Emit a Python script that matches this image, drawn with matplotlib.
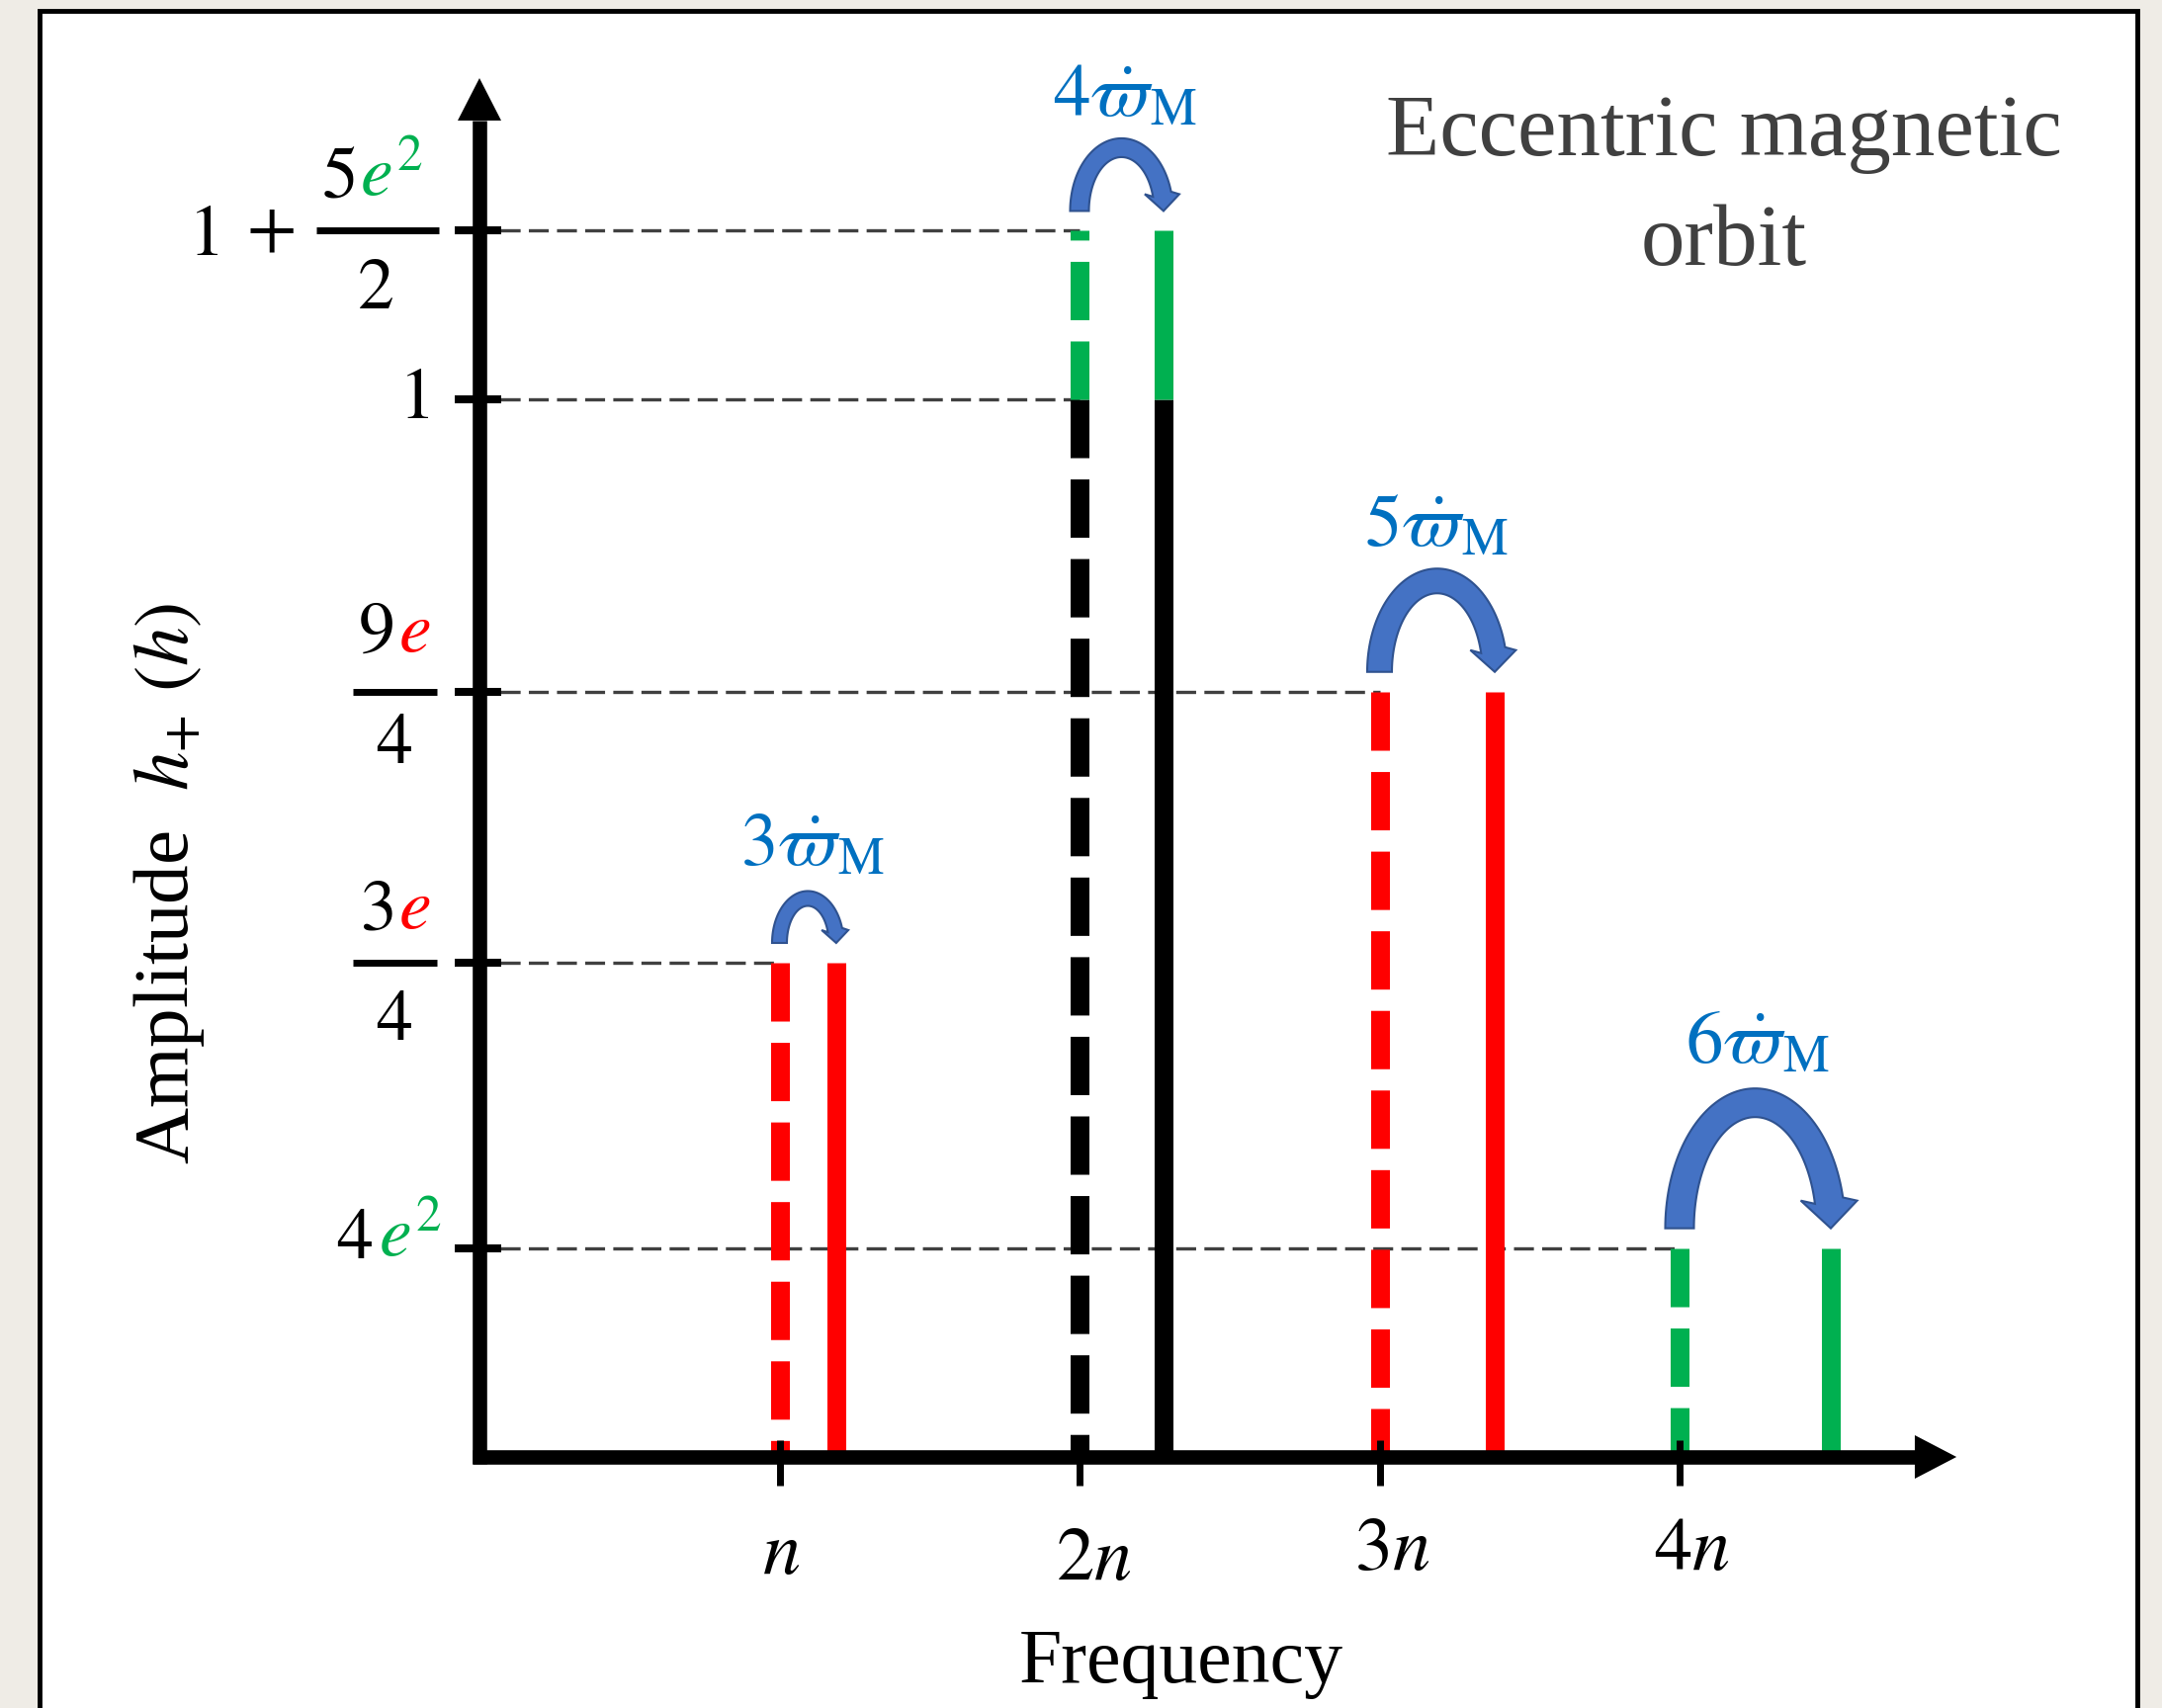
import matplotlib
matplotlib.use('Agg')
import matplotlib.pyplot as plt
from matplotlib.patches import Polygon, Rectangle
import numpy as np

plt.rcParams['font.family'] = ['Liberation Serif', 'DejaVu Serif']
plt.rcParams['mathtext.fontset'] = 'stix'
plt.rcParams['lines.scale_dashes'] = False

# harmonics of the orbital frequency n
harm_labels = ['$n$', '$2n$', '$3n$', '$4n$']
harm_freq = [1, 2, 3, 4]
# shifted line (pericentre precession), same amplitude
shift = [0.189, 0.28, 0.384, 0.504]
shift_labels = [r'$3\dot{\varpi}_{\mathrm{M}}$', r'$4\dot{\varpi}_{\mathrm{M}}$',
                r'$5\dot{\varpi}_{\mathrm{M}}$', r'$6\dot{\varpi}_{\mathrm{M}}$']
# schematic amplitudes: 3e/4, 1, 9e/4, 4e^2  (+5e^2/2 on top of 2n)
amp = [0.4673, 1.0, 0.7236, 0.1975]
amp_extra = [0.0, 0.1594, 0.0, 0.0]

RED = '#FF0000'
GREEN = '#00B050'
BLACK = '#000000'
line_col = [RED, BLACK, RED, GREEN]

W, H = 2187, 1728
fig = plt.figure(figsize=(W / 100, H / 100), dpi=100)
fig.patch.set_facecolor('#EFECE6')
ax = fig.add_axes([0, 0, 1, 1])
ax.set_xlim(-485 / 303.5, (W - 485) / 303.5)
ax.set_ylim(-(H - 1474) / 1070, 1474 / 1070)
ax.axis('off')
ax.patch.set_alpha(0)

sx = (ax.get_xlim()[1] - ax.get_xlim()[0]) / W
sy = (ax.get_ylim()[1] - ax.get_ylim()[0]) / H

# outer white panel with black frame
ax.add_patch(Rectangle((40 / W, -0.05), (2162 - 40) / W, 1.05 - 11 / H,
                       transform=ax.transAxes, fc='white', ec='black', lw=3.5,
                       zorder=0, clip_on=False))

LW = 13.7
DASH = (0, (42.5, 15.5))
GRID_DASH = (0, (14.5, 6.0))

# spectral lines
for k in range(4):
    xd = harm_freq[k]
    xs = xd + shift[k]
    top = amp[k]
    ax.plot([xd, xd], [top, 0], color=line_col[k], lw=LW, ls=DASH, zorder=3)
    ax.plot([xs, xs], [0, top], color=line_col[k], lw=LW, solid_capstyle='butt', zorder=3)
    if amp_extra[k] > 0:
        ax.plot([xd, xd], [top, top + amp_extra[k]], color=GREEN, lw=LW, ls=DASH, zorder=3)
        ax.plot([xs, xs], [top, top + amp_extra[k]], color=GREEN, lw=LW,
                solid_capstyle='butt', zorder=3)

# dashed guides from the y axis
for k in range(4):
    tops = [amp[k]] + ([amp[k] + amp_extra[k]] if amp_extra[k] > 0 else [])
    for t in tops:
        ax.plot([0.07, harm_freq[k]], [t, t], color='#404040', lw=2.4, ls=GRID_DASH, zorder=2)

# curved arrows (precession shift)
curl_t = [15, 19, 25, 29]
curl_h = [45, 64, 92, 127]
curl_hw = [27, 35, 46, 57]
curl_hl = [13, 17, 22, 28]
for k in range(4):
    x0 = harm_freq[k]
    x1 = x0 + shift[k]
    yb = amp[k] + amp_extra[k] + 20 * sy
    cx = (x0 + x1) / 2
    a = (x1 - x0) / 2
    b = curl_h[k] * sy
    ta = curl_t[k] / 2 * sx
    tb = curl_t[k] / 2 * sy
    hl = curl_hl[k] * sy
    th_e = np.arcsin(min(hl / b, 1.0))
    th = np.linspace(np.pi, th_e, 80)
    outer = np.column_stack([cx + (a + ta) * np.cos(th), yb + (b + tb) * np.sin(th)])
    inner = np.column_stack([cx + (a - ta) * np.cos(th[::-1]), yb + (b - tb) * np.sin(th[::-1])])
    xe = cx + a * np.cos(th_e)
    hw = curl_hw[k] / 2 * sx
    head = np.array([[xe + hw, yb + hl], [x1, yb], [xe - hw, yb + hl]])
    pts = np.vstack([outer, head, inner])
    ax.add_patch(Polygon(pts, closed=True, fc='#4472C4', ec='#2F528F', lw=1.5, zorder=4))

# shift labels
lab_x = [1.110, 2.152, 3.189, 4.260]
lab_y = [0.5598, 1.2682, 0.8617, 0.3729]
for k in range(4):
    ax.text(lab_x[k], lab_y[k], shift_labels[k], color='#0070C0', fontsize=54,
            ha='center', va='baseline', zorder=5)

# axes with arrow heads
AX_LW = 10.5
ax.plot([0, 0], [-7 * sy, 1.2636], color='black', lw=AX_LW, solid_capstyle='butt', zorder=6)
ax.fill([-22 * sx, 22 * sx, 0], [1.2636, 1.2636, 1.3037], color='black', lw=0, zorder=6)
ax.plot([-7 * sx, 4.784], [0, 0], color='black', lw=AX_LW, solid_capstyle='butt', zorder=6)
ax.fill([4.784, 4.784, 4.923], [22 * sy, -22 * sy, 0], color='black', lw=0, zorder=6)

# x ticks and labels
tick_lab_x = [1.005, 2.046, 3.041, 4.040]
tick_base = [-0.110, -0.116, -0.1065, -0.1065]
for k in range(4):
    ax.plot([harm_freq[k], harm_freq[k]], [0.0159, -0.0271], color='black', lw=5,
            solid_capstyle='butt', zorder=6)
    ax.text(tick_lab_x[k], tick_base[k], harm_labels[k], fontsize=55,
            ha='center', va='baseline')

# y ticks
ytick_levels = [amp[3], amp[0], amp[2], amp[1], amp[1] + amp_extra[1]]
for lev in ytick_levels:
    ax.plot([-0.0824, 0.0725], [lev, lev], color='black', lw=5.8,
            solid_capstyle='butt', zorder=6)

FS = 53
# 1 + 5e^2/2
top2 = amp[1] + amp_extra[1]
ax.text(-0.870, 1.1364, '$1$', fontsize=FS, ha='right', va='baseline')
ax.text(-0.6985, top2, '$+$', fontsize=FS, ha='center', va='center')
ax.text(-0.415, 1.1907, '$5$', fontsize=FS, ha='right', va='baseline')
ax.text(-0.399, 1.1907, '$e^{2}$', fontsize=FS, ha='left', va='baseline', color=GREEN)
ax.plot([-0.5437, -0.1351], [top2, top2], color='black', lw=5, solid_capstyle='butt')
ax.text(-0.346, 1.086, '$2$', fontsize=FS, ha='center', va='baseline')
# 1
ax.text(-0.168, 0.982, '$1$', fontsize=FS, ha='right', va='baseline')
# 9e/4
ax.text(-0.2867, 0.7607, '$9$', fontsize=FS, ha='right', va='baseline')
ax.text(-0.270, 0.7607, '$e$', fontsize=FS, ha='left', va='baseline', color=RED)
ax.plot([-0.4217, -0.1417], [amp[2], amp[2]], color='black', lw=5, solid_capstyle='butt')
ax.text(-0.2867, 0.6561, '$4$', fontsize=FS, ha='center', va='baseline')
# 3e/4
ax.text(-0.2867, 0.499, '$3$', fontsize=FS, ha='right', va='baseline')
ax.text(-0.270, 0.499, '$e$', fontsize=FS, ha='left', va='baseline', color=RED)
ax.plot([-0.4217, -0.1417], [amp[0], amp[0]], color='black', lw=5, solid_capstyle='butt')
ax.text(-0.2867, 0.3944, '$4$', fontsize=FS, ha='center', va='baseline')
# 4e^2
ax.text(-0.3558, 0.1879, '$4$', fontsize=FS, ha='right', va='baseline')
ax.text(-0.336, 0.1879, '$e^{2}$', fontsize=FS, ha='left', va='baseline', color=GREEN)

# axis titles
ax.text(-0.972, 0.542, r'Amplitude  $h_{+}\ (h)$', fontsize=57, rotation=90,
        rotation_mode='anchor', ha='center', va='baseline')
ax.text(2.339, -0.2131, 'Frequency', fontsize=56, ha='center', va='baseline')

# panel title
ax.text(4.148, 1.2308, 'Eccentric magnetic', fontsize=64, color='#404040',
        ha='center', va='baseline')
ax.text(4.148, 1.1271, 'orbit', fontsize=64, color='#404040', ha='center', va='baseline')

fig.savefig('out.png', dpi=100, facecolor=fig.get_facecolor())
